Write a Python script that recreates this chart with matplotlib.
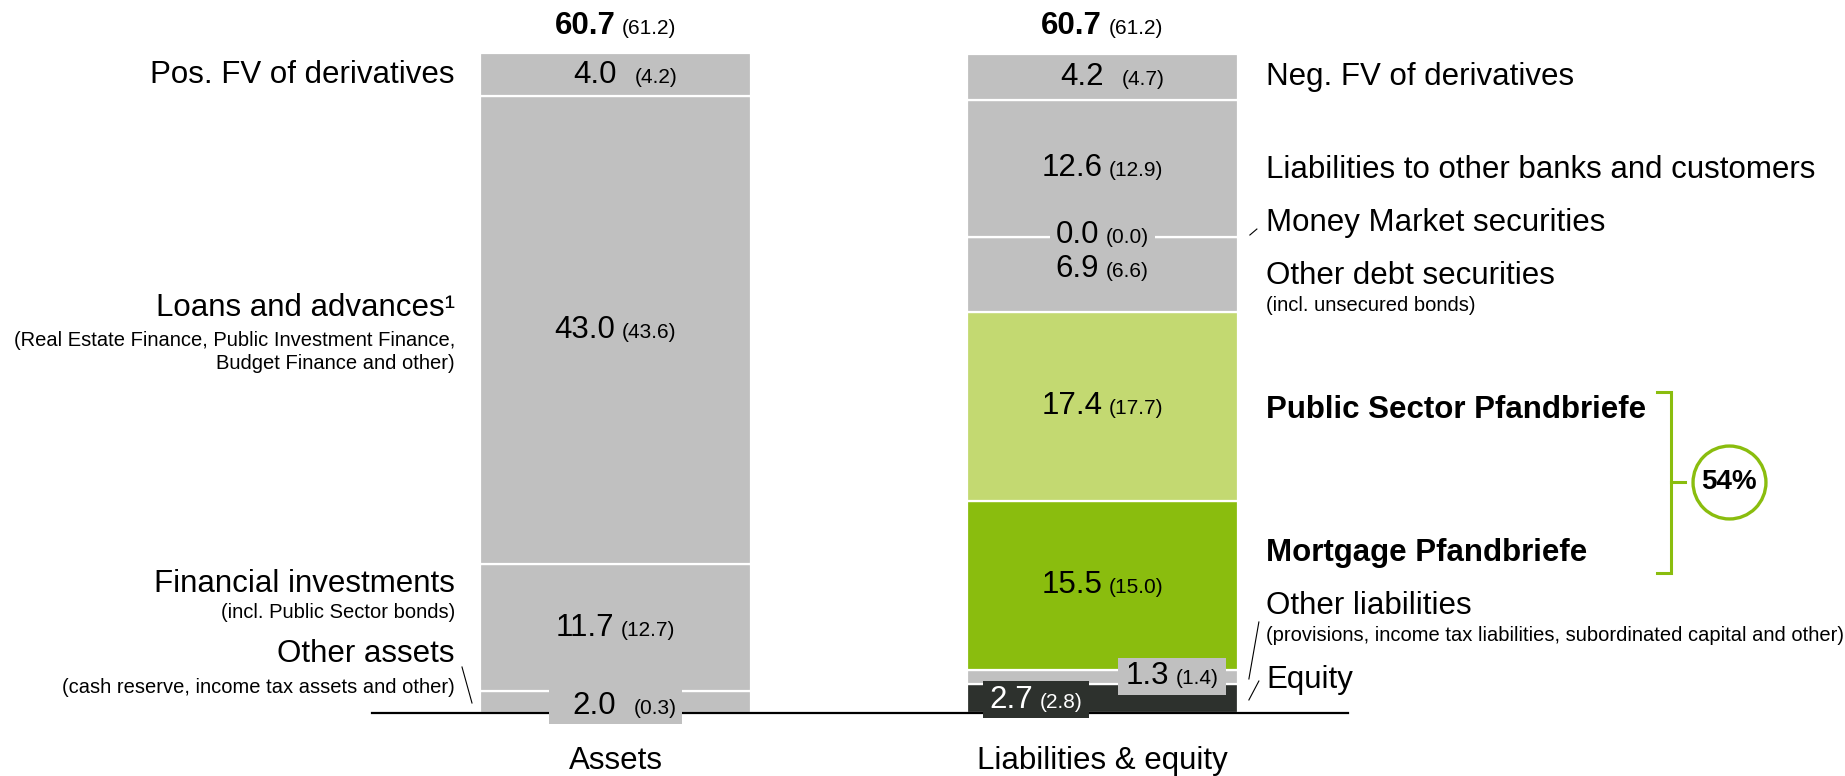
import numpy as np
import matplotlib
matplotlib.use("Agg")
import matplotlib.pyplot as plt
from matplotlib.offsetbox import AnnotationBbox, HPacker, TextArea, DrawingArea

plt.rcParams["font.family"] = ["Liberation Sans", "DejaVu Sans"]

# balance sheet in EUR bn, previous year in brackets; segments listed bottom to top
columns = ["Assets", "Liabilities & equity"]
totals = [60.7, 60.7]
totals_prior = [61.2, 61.2]

asset_values = [2.0, 11.7, 43.0, 4.0]
asset_prior = [0.3, 12.7, 43.6, 4.2]

liab_values = [2.7, 1.3, 15.5, 17.4, 6.9, 0.0, 12.6, 4.2]
liab_prior = [2.8, 1.4, 15.0, 17.7, 6.6, 0.0, 12.9, 4.7]

pfandbrief_share = "54%"

GRAY = "#c0c0c0"
LIGHT_GREEN = "#c3d971"
GREEN = "#8abd0e"
DARK = "#2d312d"

asset_colors = [GRAY, GRAY, GRAY, GRAY]
liab_colors = [DARK, GRAY, GREEN, LIGHT_GREEN, GRAY, GRAY, GRAY, GRAY]

BIG = 22.5
SMALL = 14.5

fig = plt.figure(figsize=(18.45, 7.76), dpi=100)
ax = fig.add_axes([0, 0, 1, 1])
ax.set_xlim(-1.264, 2.525)
ax.set_ylim(-5.794, 65.574)
ax.axis("off")

bar_w = 0.5565
xs = [0, 1]


def stack(x, values, colors):
    bottoms = np.concatenate([[0], np.cumsum(values)[:-1]])
    ax.bar(x, values, bar_w, bottom=bottoms, color=colors,
           edgecolor="white", linewidth=1.6, zorder=2)
    return bottoms + np.array(values) / 2


def value_label(x, y, value, prior, gap=5, color="black", box=None,
                pads=(0, 0), bold=False, size=BIG, vpad=0.0):
    big = TextArea(f"{value:.1f}", textprops=dict(size=size, color=color,
                                                   weight="bold" if bold else "normal"))
    small = TextArea(f"({prior:.1f})", textprops=dict(size=SMALL + 0.5, color=color))
    kids = [DrawingArea(pads[0], 0), big, DrawingArea(gap, 0), small, DrawingArea(pads[1], 0)]
    pack = HPacker(children=kids, align="baseline", pad=0, sep=0)
    ab = AnnotationBbox(pack, (x, y), frameon=box is not None, pad=vpad,
                        box_alignment=(0.5, 0.5), zorder=6,
                        bboxprops=dict(fc=box, ec="none") if box else None)
    ax.add_artist(ab)


a_mid = stack(xs[0], asset_values, asset_colors)
l_mid = stack(xs[1], liab_values, liab_colors)

# baseline under both columns
ax.plot([-0.5, 1.504], [0, 0], color="black", lw=1.6, zorder=4)

# values inside the bars
value_label(0.0205, a_mid[3], asset_values[3], asset_prior[3], gap=13)
value_label(0, a_mid[2], asset_values[2], asset_prior[2])
value_label(0, a_mid[1], asset_values[1], asset_prior[1])
value_label(0, 0.6, asset_values[0], asset_prior[0], gap=13, box=GRAY,
            pads=(15, 1.5), vpad=0.2)

value_label(1.0205, l_mid[7], liab_values[7], liab_prior[7], gap=13)
value_label(1, l_mid[6], liab_values[6], liab_prior[6])
value_label(1, l_mid[5] + 0.15, liab_values[5], liab_prior[5], box=GRAY, pads=(4, 4))
value_label(1, l_mid[4] + 0.5, liab_values[4], liab_prior[4])
value_label(1, l_mid[3], liab_values[3], liab_prior[3])
value_label(1, l_mid[2], liab_values[2], liab_prior[2])
value_label(1.1427, 3.36, liab_values[1], liab_prior[1], box=GRAY, pads=(3, 3), vpad=0.25)
value_label(0.8634, 1.24, liab_values[0], liab_prior[0], color="white", box=DARK,
            pads=(2, 2), vpad=0.25)

# totals above and captions below
for x, t, p, name in zip(xs, totals, totals_prior, columns):
    value_label(x, 63.2, t, p, bold=True, size=BIG)
    ax.text(x, -4.4, name, ha="center", va="center", fontsize=BIG)

# left side captions
lx = -0.3296
ax.text(lx, a_mid[3], "Pos. FV of derivatives", ha="right", va="center", fontsize=BIG)
ax.text(lx, 37.25, "Loans and advances\u00b9", ha="right", va="center", fontsize=BIG)
ax.text(lx, 34.3, "(Real Estate Finance, Public Investment Finance,", ha="right", va="center", fontsize=SMALL)
ax.text(lx, 32.1, "Budget Finance and other)", ha="right", va="center", fontsize=SMALL)
ax.text(lx, 11.86, "Financial investments", ha="right", va="center", fontsize=BIG)
ax.text(lx, 9.2, "(incl. Public Sector bonds)", ha="right", va="center", fontsize=SMALL)
ax.text(lx, 5.45, "Other assets", ha="right", va="center", fontsize=BIG)
ax.text(lx, 2.39, "(cash reserve, income tax assets and other)", ha="right", va="center", fontsize=SMALL)
ax.plot([-0.3152, -0.2947], [4.23, 0.92], color="black", lw=0.8)

# right side captions
rx = 1.3357
ax.text(rx, l_mid[7], "Neg. FV of derivatives", ha="left", va="center", fontsize=BIG)
ax.text(rx, l_mid[6] - 0.15, "Liabilities to other banks and customers", ha="left", va="center", fontsize=BIG)
ax.text(rx, 45.1, "Money Market securities", ha="left", va="center", fontsize=BIG)
ax.plot([1.3028, 1.3172], [43.96, 44.51], color="black", lw=0.8)
ax.text(rx, 40.2, "Other debt securities", ha="left", va="center", fontsize=BIG)
ax.text(rx, 37.52, "(incl. unsecured bonds)", ha="left", va="center", fontsize=SMALL)
ax.text(rx, 27.87, "Public Sector Pfandbriefe", ha="left", va="center", fontsize=BIG, fontweight="bold")
ax.text(rx, 14.72, "Mortgage Pfandbriefe", ha="left", va="center", fontsize=BIG, fontweight="bold")
ax.text(rx, 9.85, "Other liabilities", ha="left", va="center", fontsize=BIG)
ax.text(rx, 7.17, "(provisions, income tax liabilities, subordinated capital and other)",
        ha="left", va="center", fontsize=SMALL)
ax.text(rx, 3.05, "Equity", ha="left", va="center", fontsize=BIG)
ax.plot([1.3213, 1.3008], [8.37, 3.13], color="black", lw=0.8)
ax.plot([1.3213, 1.3008], [2.94, 1.2], color="black", lw=0.8)

# bracket around the Pfandbriefe with their share of the total
bx, btick = 2.1674, 2.1386
ytop, ybot = 29.52, 12.88
ymid = (ytop + ybot) / 2
ax.plot([btick, bx, bx, btick], [ytop, ytop, ybot, ybot], color=GREEN, lw=2.2,
        solid_joinstyle="miter")
ax.plot([bx, 2.196], [ymid, ymid], color=GREEN, lw=2.2)
ax.plot(2.2862, ymid, "o", ms=52.5, mfc="white", mec=GREEN, mew=2.4)
ax.text(2.2862, ymid, pfandbrief_share, ha="center", va="center", fontsize=20, fontweight="bold")

fig.savefig("out.png", dpi=100)
